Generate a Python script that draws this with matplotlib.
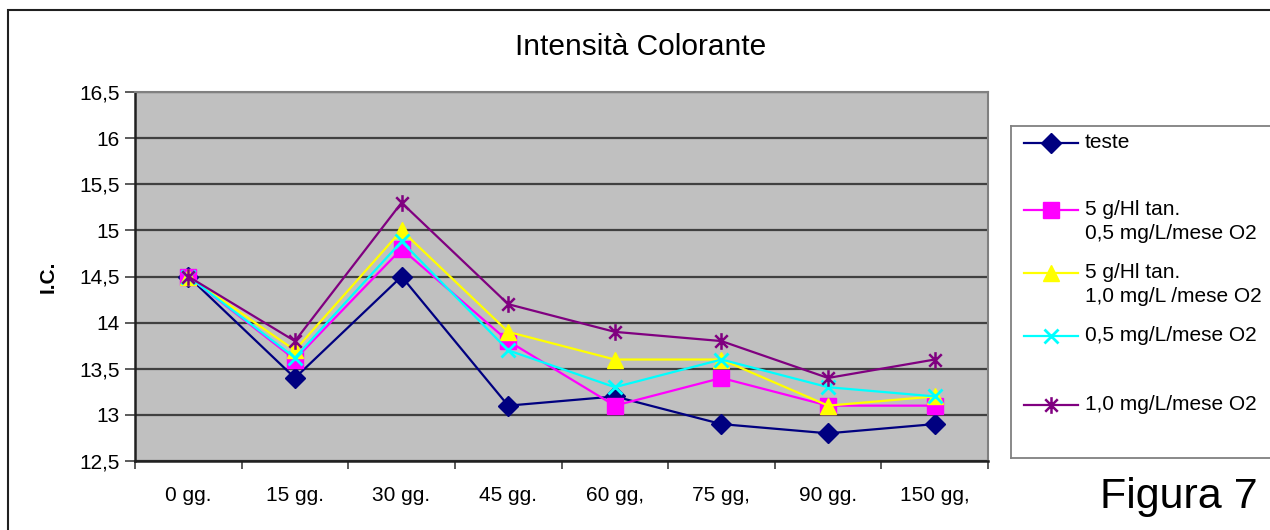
import numpy as np
import matplotlib
matplotlib.use('Agg')
import matplotlib.pyplot as plt
from matplotlib.path import Path
from matplotlib.lines import Line2D
from matplotlib.patches import Rectangle
from matplotlib.ticker import FuncFormatter

plt.rcParams['font.family'] = ['Liberation Sans', 'DejaVu Sans']

# data
categories = ['0 gg.', '15 gg.', '30 gg.', '45 gg.', '60 gg,', '75 gg,', '90 gg.', '150 gg,']
teste = [14.5, 13.4, 14.5, 13.1, 13.2, 12.9, 12.8, 12.9]
tan_05 = [14.5, 13.6, 14.8, 13.8, 13.1, 13.4, 13.1, 13.1]
tan_10 = [14.5, 13.7, 15.0, 13.9, 13.6, 13.6, 13.1, 13.2]
ox_05 = [14.5, 13.62, 14.88, 13.7, 13.3, 13.6, 13.3, 13.2]
ox_10 = [14.5, 13.8, 15.3, 14.2, 13.9, 13.8, 13.4, 13.6]

labels = ['teste',
          '5 g/Hl tan.\n0,5 mg/L/mese O2',
          '5 g/Hl tan.\n1,0 mg/L /mese O2',
          '0,5 mg/L/mese O2',
          '1,0 mg/L/mese O2']

# asterisk marker like Excel: vertical bar + X
ast = Path([(0, -1), (0, 1), (-0.75, -0.75), (0.75, 0.75), (-0.75, 0.75), (0.75, -0.75)],
           [Path.MOVETO, Path.LINETO, Path.MOVETO, Path.LINETO, Path.MOVETO, Path.LINETO])

colors = ['#000080', '#FF00FF', '#FFFF00', '#00FFFF', '#800080']
markers = [
    dict(marker='D', ms=10),
    dict(marker='s', ms=11),
    dict(marker='^', ms=11),
    dict(marker='x', ms=10, mew=2),
    dict(marker=ast, ms=12, mew=1.8, mfc='none'),
]
series = [teste, tan_05, tan_10, ox_05, ox_10]

fig = plt.figure(figsize=(12.7, 5.3), dpi=100)
ax = fig.add_axes([135 / 1270, 1 - 461 / 530, (988 - 135) / 1270, (461 - 92) / 530])
ax.set_facecolor('#C0C0C0')

x = np.arange(len(categories))
for vals, c, mk in zip(series, colors, markers):
    ax.plot(x, vals, lw=1.6, color=c, zorder=3, clip_on=False, **mk)

ax.set_xlim(-0.5, len(categories) - 0.5)
ax.set_ylim(12.5, 16.5)
ax.set_yticks(np.arange(12.5, 16.51, 0.5))
ax.yaxis.set_major_formatter(FuncFormatter(lambda v, p: ('%g' % v).replace('.', ',')))
ax.grid(axis='y', color='#404040', lw=1.6, zorder=1)
ax.set_axisbelow(True)

ax.set_xticks(np.arange(-0.5, len(categories), 1.0))
ax.set_xticklabels([])
ax.set_xticks(x, minor=True)
ax.set_xticklabels(categories, minor=True)
ax.tick_params(axis='x', which='minor', length=0, pad=18, labelsize=15)
ax.tick_params(axis='x', which='major', length=6, width=1.2, color='#404040', direction='out')
ax.tick_params(axis='y', length=7, width=1.2, color='#404040', labelsize=15, pad=4)

for s in ['left', 'bottom']:
    ax.spines[s].set_color('#202020')
    ax.spines[s].set_linewidth(1.8)
for s in ['top', 'right']:
    ax.spines[s].set_color('#808080')
    ax.spines[s].set_linewidth(1.5)

fig.text(48 / 1270, 1 - 277 / 530, 'I.C.', rotation=90, fontsize=15, fontweight='bold',
         ha='center', va='center')
fig.text(641 / 1270, 1 - 47 / 530, 'Intensità Colorante', fontsize=21.5,
         ha='center', va='center')
fig.text(1100 / 1270, 1 - 497 / 530, 'Figura 7', fontsize=31, ha='left', va='center')

# outer chart frame
fig.patches.append(Rectangle((8 / 1270, -0.1), 1.2, 1.1 - 10 / 530, transform=fig.transFigure,
                             fill=False, ec='#202020', lw=1.5, zorder=0))

# legend box (drawn as its own axes, pixel units)
lg = fig.add_axes([1011 / 1270, 1 - 458 / 530, 270 / 1270, (458 - 126) / 530])
lg.set_xlim(0, 270)
lg.set_ylim(332, 0)
lg.set_xticks([])
lg.set_yticks([])
for s in lg.spines.values():
    s.set_color('#808080')
    s.set_linewidth(1.3)
row_y = [17, 84, 147, 210, 279]
for yy, lab, c, mk in zip(row_y, labels, colors, markers):
    lg.add_line(Line2D([13, 67], [yy, yy], lw=1.6, color=c))
    lg.add_line(Line2D([40], [yy], lw=0, color=c, **mk))
    lg.text(74, yy - 10, lab, fontsize=15, va='top', ha='left', linespacing=1.3)

fig.savefig('out.png', dpi=100)
